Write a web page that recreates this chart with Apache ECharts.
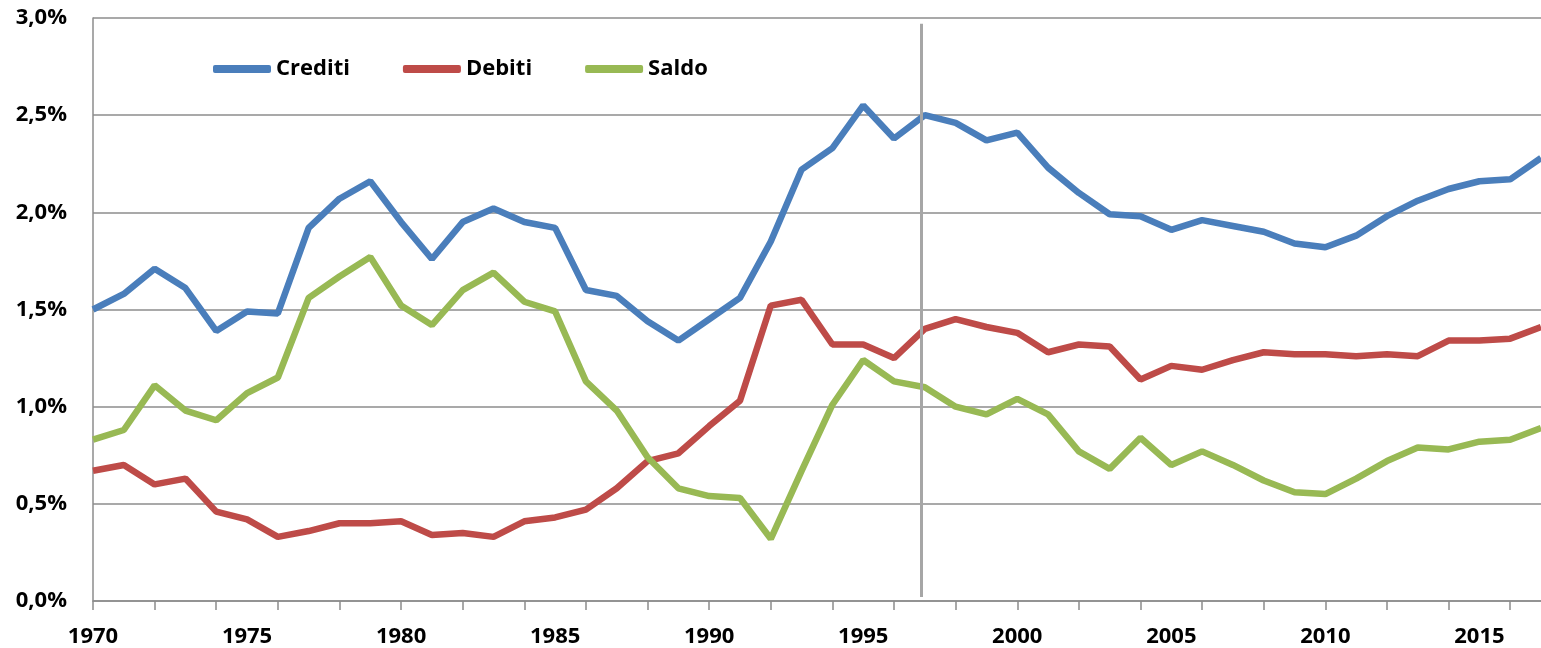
<!DOCTYPE html>
<html>
<head>
<meta charset="utf-8">
<script src="https://cdn.jsdelivr.net/npm/echarts@6/dist/echarts.min.js"></script>
<style>
  html, body { margin: 0; padding: 0; background: #fff; }
  #chart { width: 1541px; height: 648px; }
</style>
</head>
<body>
<div id="chart"></div>
<script>
// anni 1970-2017, valori in % del PIL
const years = []
for (let y = 1970; y <= 2017; y++) years.push(y)

const crediti = [
  1.50, 1.58, 1.71, 1.61, 1.39, 1.49, 1.48, 1.92, 2.07, 2.16,
  1.95, 1.76, 1.95, 2.02, 1.95, 1.92, 1.60, 1.57, 1.44, 1.34,
  1.45, 1.56, 1.85, 2.22, 2.33, 2.55, 2.38, 2.50, 2.46, 2.37,
  2.41, 2.23, 2.10, 1.99, 1.98, 1.91, 1.96, 1.93, 1.90, 1.84,
  1.82, 1.88, 1.98, 2.06, 2.12, 2.16, 2.17, 2.28
]
const debiti = [
  0.67, 0.70, 0.60, 0.63, 0.46, 0.42, 0.33, 0.36, 0.40, 0.40,
  0.41, 0.34, 0.35, 0.33, 0.41, 0.43, 0.47, 0.58, 0.72, 0.76,
  0.90, 1.03, 1.52, 1.55, 1.32, 1.32, 1.25, 1.40, 1.45, 1.41,
  1.38, 1.28, 1.32, 1.31, 1.14, 1.21, 1.19, 1.24, 1.28, 1.27,
  1.27, 1.26, 1.27, 1.26, 1.34, 1.34, 1.35, 1.41
]
const saldo = [
  0.83, 0.88, 1.11, 0.98, 0.93, 1.07, 1.15, 1.56, 1.67, 1.77,
  1.52, 1.42, 1.60, 1.69, 1.54, 1.49, 1.13, 0.98, 0.74, 0.58,
  0.54, 0.53, 0.32, 0.67, 1.01, 1.24, 1.13, 1.10, 1.00, 0.96,
  1.04, 0.96, 0.77, 0.68, 0.84, 0.70, 0.77, 0.70, 0.62, 0.56,
  0.55, 0.63, 0.72, 0.79, 0.78, 0.82, 0.83, 0.89
]

const labelYears = [1970, 1975, 1980, 1985, 1990, 1995, 2000, 2005, 2010, 2015]
const tickYears = []
for (let y = 1970; y <= 2016; y += 2) tickYears.push(y)

// linea verticale di separazione
const markerYear = 1996.88

const fontFamily = '"Open Sans", Lato, sans-serif'
const axisColor = '#8C8C8C'

function pairs(values) {
  return years.map((y, i) => [y, values[i]])
}

function lineSeries(name, values, color) {
  return {
    name: name,
    type: 'line',
    data: pairs(values),
    showSymbol: false,
    symbol: 'none',
    color: color,
    lineStyle: { width: 6.5, color: color },
    z: 3
  }
}

let chart = echarts.init(document.getElementById('chart'))

let series = [
  lineSeries('Crediti', crediti, '#4A7EBB'),
  lineSeries('Debiti', debiti, '#BE4B48'),
  lineSeries('Saldo', saldo, '#98B954')
]
series[0].markLine = {
  silent: true,
  symbol: 'none',
  label: { show: false },
  lineStyle: { color: '#A6A6A6', width: 3, type: 'solid' },
  data: [[{ coord: [markerYear, 0.02] }, { coord: [markerYear, 2.97] }]]
}

chart.setOption({
  animation: false,
  backgroundColor: '#fff',
  grid: {
    left: 93,
    top: 18,
    width: 1453,
    height: 583
  },
  legend: {
    data: ['Crediti', 'Debiti', 'Saldo'],
    left: 208,
    top: 53,
    icon: 'roundRect',
    itemWidth: 58,
    itemHeight: 8,
    itemGap: 53,
    textStyle: {
      fontFamily: fontFamily,
      fontWeight: 'bold',
      fontSize: 22,
      color: '#000'
    }
  },
  xAxis: {
    type: 'value',
    min: 1970,
    max: 2017,
    splitLine: { show: false },
    axisLine: { show: true, lineStyle: { color: axisColor, width: 1.5 } },
    axisTick: {
      show: true,
      length: 9,
      customValues: tickYears,
      lineStyle: { color: axisColor, width: 1.5 }
    },
    axisLabel: {
      customValues: labelYears,
      margin: 25,
      color: '#000',
      fontFamily: fontFamily,
      fontWeight: 'bold',
      fontSize: 22,
      formatter: v => String(v)
    }
  },
  yAxis: {
    type: 'value',
    min: 0,
    max: 3,
    interval: 0.5,
    axisLine: { show: true, lineStyle: { color: axisColor, width: 1.5 } },
    axisTick: { show: false },
    splitLine: { lineStyle: { color: axisColor, width: 1.5 } },
    axisLabel: {
      margin: 26,
      color: '#000',
      fontFamily: fontFamily,
      fontWeight: 'bold',
      fontSize: 22,
      formatter: v => v.toFixed(1).replace('.', ',') + '%'
    }
  },
  series: series
})
</script>
</body>
</html>
